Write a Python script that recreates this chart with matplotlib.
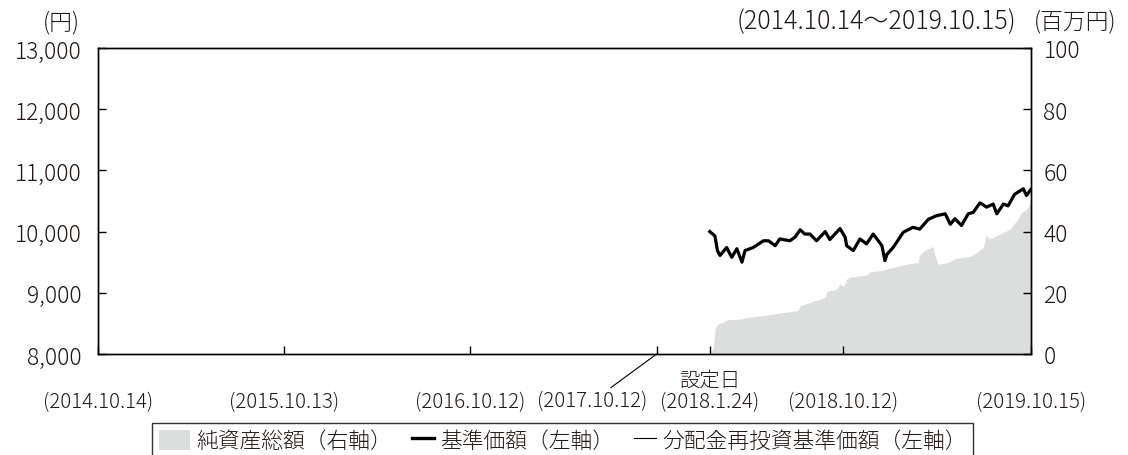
import matplotlib
matplotlib.use('Agg')
import matplotlib.pyplot as plt
import pandas as pd
from matplotlib.patches import Patch
from matplotlib.lines import Line2D
from matplotlib.legend_handler import HandlerLine2D

plt.rcParams['font.family'] = ['Noto Sans CJK JP', 'DejaVu Sans']
plt.rcParams['font.weight'] = 'light'
TXT = '#231815'

# ---- data ----
nav_dates = ['2018-01-24', '2018-02-03', '2018-02-08', '2018-02-13', '2018-02-26', '2018-03-08',
             '2018-03-18', '2018-03-28', '2018-04-03', '2018-04-19', '2018-05-09', '2018-05-19',
             '2018-06-01', '2018-06-10', '2018-06-30', '2018-07-10', '2018-07-20', '2018-07-29',
             '2018-08-08', '2018-08-21', '2018-09-07', '2018-09-16', '2018-10-06', '2018-10-16',
             '2018-10-19', '2018-11-01', '2018-11-14', '2018-11-27', '2018-12-10', '2018-12-20',
             '2018-12-27', '2019-01-02', '2019-01-06', '2019-01-18', '2019-02-07', '2019-02-26',
             '2019-03-11', '2019-03-28', '2019-04-13', '2019-04-30', '2019-05-10', '2019-05-19',
             '2019-06-01', '2019-06-14', '2019-06-24', '2019-07-07', '2019-07-20', '2019-08-02',
             '2019-08-09', '2019-08-22', '2019-08-31', '2019-09-13', '2019-09-30', '2019-10-06',
             '2019-10-15']
nav_values = [10000, 9930, 9690, 9610, 9740, 9580,
              9720, 9500, 9690, 9740, 9850, 9850,
              9770, 9880, 9850, 9910, 10030, 9960,
              9960, 9850, 10000, 9870, 10050, 9910,
              9770, 9690, 9880, 9800, 9960, 9850,
              9770, 9525, 9630, 9740, 9990, 10070,
              10040, 10200, 10260, 10290, 10120, 10210,
              10100, 10290, 10315, 10470, 10400, 10450,
              10290, 10450, 10420, 10610, 10700, 10590,
              10690]
reinv_values = list(nav_values)

asset_dates = ['2018-01-24', '2018-01-31', '2018-02-03', '2018-02-09', '2018-02-28', '2018-03-23',
               '2018-04-12', '2018-05-14', '2018-06-10', '2018-07-16', '2018-07-20', '2018-08-08',
               '2018-09-07', '2018-09-10', '2018-09-30', '2018-10-06', '2018-10-13', '2018-10-19',
               '2018-10-26', '2018-11-27', '2018-12-04', '2018-12-23', '2019-01-18', '2019-02-06',
               '2019-03-08', '2019-03-11', '2019-03-21', '2019-04-06', '2019-04-10', '2019-04-16',
               '2019-05-03', '2019-05-22', '2019-06-18', '2019-07-01', '2019-07-14', '2019-07-19',
               '2019-07-27', '2019-08-15', '2019-09-04', '2019-09-17', '2019-09-27', '2019-10-07',
               '2019-10-15']
asset_values = [0.3, 2.0, 8.2, 9.8, 11.2, 11.4,
                12.0, 12.7, 13.4, 14.2, 15.8, 16.9,
                18.5, 20.4, 21.2, 22.9, 22.1, 24.5,
                25.1, 25.8, 26.9, 27.2, 28.3, 29.1,
                30.0, 32.4, 33.8, 35.2, 32.1, 29.4,
                29.7, 31.3, 31.9, 33.2, 34.9, 38.9,
                37.6, 39.2, 40.8, 43.6, 46.3, 47.4,
                49.6]

x_tick_dates = ['2014-10-14', '2015-10-13', '2016-10-12', '2017-10-12', '2018-01-24',
                '2018-10-12', '2019-10-15']
x_tick_labels = ['(2014.10.14)', '(2015.10.13)', '(2016.10.12)', '(2017.10.12)', '(2018.1.24)',
                 '(2018.10.12)', '(2019.10.15)']
left_ticks = [8000, 9000, 10000, 11000, 12000, 13000]
right_ticks = [0, 20, 40, 60, 80, 100]
legend_labels = ['純資産総額（右軸）', '基準価額（左軸）', '分配金再投資基準価額（左軸）']


class ShortLineHandler(HandlerLine2D):
    """Legend line drawn over the right part of the handle box only."""
    def get_xdata(self, legend, xdescent, ydescent, width, height, fontsize):
        xd = [-xdescent + width * 0.3, -xdescent + width]
        return xd, xd


# ---- figure ----
W, H = 1128, 456
fig = plt.figure(figsize=(W / 100, H / 100), dpi=100)
ax = fig.add_axes([98 / W, 1 - 355 / H, (1031 - 98) / W, (355 - 49) / H])
ax2 = ax.twinx()
ax.set_zorder(ax2.get_zorder() + 1)
ax.patch.set_visible(False)

nd = pd.to_datetime(nav_dates)
ad = pd.to_datetime(asset_dates)
ax2.fill_between(ad, 0, asset_values, color='#dcdddd', linewidth=0)
ax.plot(nd, reinv_values, color='black', lw=0.8)
ax.plot(nd, nav_values, color='black', lw=2.3)

ax.set_xlim(pd.Timestamp(x_tick_dates[0]), pd.Timestamp(x_tick_dates[-1]))
ax.set_ylim(left_ticks[0], left_ticks[-1])
ax2.set_ylim(right_ticks[0], right_ticks[-1])

ax.set_yticks(left_ticks)
ax.set_yticklabels([f'{v:,}' for v in left_ticks])
ax2.set_yticks(right_ticks)
ax2.set_yticklabels([str(v) for v in right_ticks])

xt = pd.to_datetime(x_tick_dates)
ax.set_xticks(xt)
shown = [lab if i != 3 else '' for i, lab in enumerate(x_tick_labels)]
ax.set_xticklabels(shown)

for a in (ax, ax2):
    for s in a.spines.values():
        s.set_linewidth(1.0)
        s.set_color('black')

ax.tick_params(axis='y', direction='in', length=5.5, width=1.0, pad=12, labelsize=16.4, labelcolor=TXT)
ax2.tick_params(axis='y', direction='in', length=5.5, width=1.0, pad=9, labelsize=16.4, labelcolor=TXT)
ax.tick_params(axis='x', direction='in', length=5.5, width=1.0, pad=27, labelsize=14.7, labelcolor=TXT)

# offset label with leader line
ax.annotate(x_tick_labels[3], xy=(xt[3], 0), xycoords=('data', 'axes fraction'),
            xytext=(-64, -47), textcoords='offset pixels', ha='center', va='center',
            fontsize=14.7, color=TXT,
            arrowprops=dict(arrowstyle='-', color='black', lw=0.8, shrinkA=0, shrinkB=0))
ax.annotate('設定日', xy=(xt[4], 0), xycoords=('data', 'axes fraction'),
            xytext=(0, -26), textcoords='offset pixels', ha='center', va='center',
            fontsize=14.7, color=TXT)

# header texts
fig.text(80 / W, 1 - 23 / H, '(円)', ha='right', va='center', fontsize=16.4, color=TXT)
fig.text(1016 / W, 1 - 22 / H, '(2014.10.14～2019.10.15)', ha='right', va='center', fontsize=18, color=TXT)
fig.text(1034 / W, 1 - 22 / H, '(百万円)', ha='left', va='center', fontsize=16.4, color=TXT)

handles = [Patch(facecolor='#dcdddd', edgecolor='none'),
           Line2D([], [], color='black', lw=2.4),
           Line2D([], [], color='black', lw=0.8)]
leg = ax.legend(handles, legend_labels, ncol=3, loc='upper left',
                bbox_to_anchor=(152 / W, 1 - 424 / H), bbox_transform=fig.transFigure,
                fontsize=15.7, frameon=True, fancybox=False, borderaxespad=0,
                handlelength=1.45, handleheight=1.1, handletextpad=0.3, columnspacing=0.45,
                borderpad=0.3, labelcolor=TXT,
                handler_map={Line2D: ShortLineHandler()})
leg.get_frame().set_edgecolor('black')
leg.get_frame().set_linewidth(1.0)

fig.savefig('out.png', dpi=100)
